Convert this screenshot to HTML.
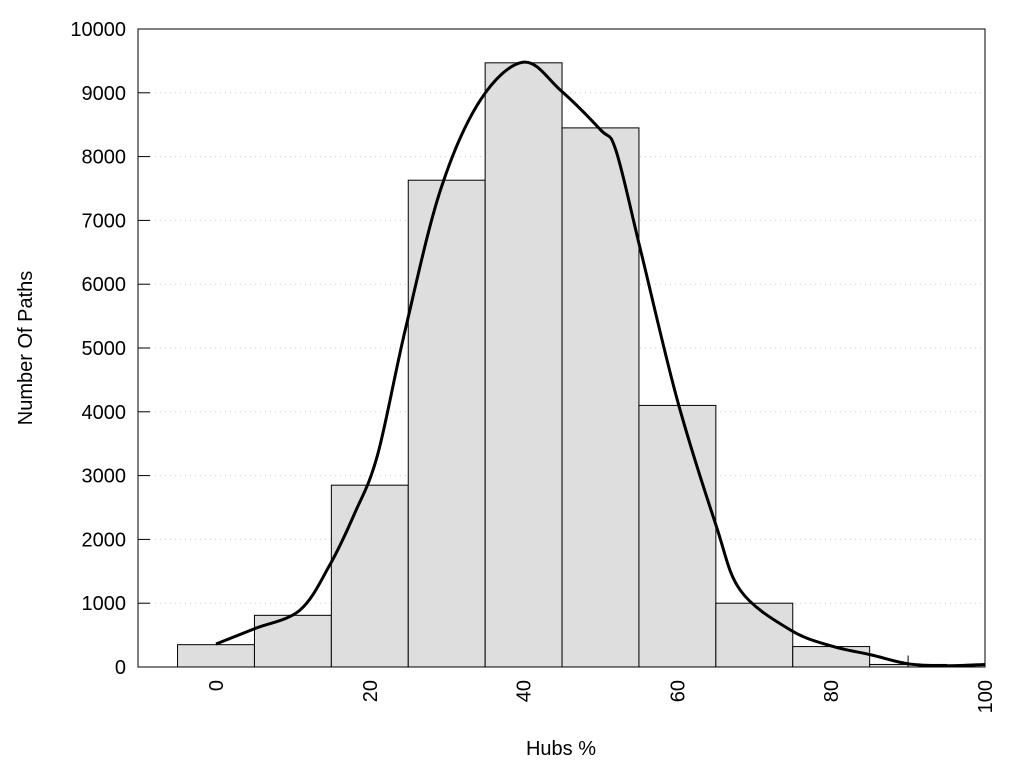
<!DOCTYPE html>
<html><head><meta charset="utf-8"><style>
body{margin:0;background:#fff;}
svg text{font-family:"Liberation Sans",sans-serif;fill:#000;}
</style></head><body>
<svg id="chart" width="1024" height="768" xmlns="http://www.w3.org/2000/svg">
<g id="grid"></g>
<g id="bars"></g>
<g id="curve"></g>
<rect x="138" y="29" width="847" height="638" fill="none" stroke="#000" stroke-width="1"/>
<g id="yticks"></g>
<g id="xticks"></g>
<text x="561" y="755" font-size="20" text-anchor="middle">Hubs %</text>
<text transform="translate(32,348) rotate(-90)" font-size="20" text-anchor="middle">Number Of Paths</text>
</svg>
<script>
const binCenters=[0,10,20,30,40,50,60,70,80,90,100];
const binCounts=[350,810,2850,7630,9470,8450,4100,1000,320,40,30];
const curveX=[0,5,10.9,14.8,18,21,24.6,29.2,34.4,40,44.8,50,52,55.2,60,65,68.2,74.7,80,85.2,90,95,100];
const curveY=[360,600,890,1600,2400,3320,5280,7480,8890,9480,9040,8420,8100,6540,4180,2230,1200,580,330,190,50,20,40];
const yTicks=[0,1000,2000,3000,4000,5000,6000,7000,8000,9000,10000];
const xTicks=[0,20,40,60,80,100];
const NS="http://www.w3.org/2000/svg";
const X=v=>216+v*7.69, Y=v=>667-v*0.0638;
function mk(t,a,p){const e=document.createElementNS(NS,t);for(const k in a)e.setAttribute(k,a[k]);p.appendChild(e);return e;}
const grid=document.getElementById('grid'),yt=document.getElementById('yticks'),xt=document.getElementById('xticks');
yTicks.forEach(v=>{
 if(v>0&&v<10000){const g=mk('line',{x1:150,x2:985,y1:Y(v),y2:Y(v),stroke:'#ccc','stroke-dasharray':'1,4'},grid);
 }
 const l=mk('line',{x1:138,x2:150,y1:Y(v),y2:Y(v),stroke:'#000'},yt);
 
 const t=mk('text',{x:126,y:Y(v)+7,'font-size':20,'text-anchor':'end'},yt);t.textContent=v;
 
});
xTicks.forEach(v=>{
 const t=mk('text',{transform:`translate(${X(v)+7},680) rotate(-90)`,'font-size':20,'text-anchor':'end'},xt);t.textContent=v;
 
});
const bars=document.getElementById('bars');
binCenters.forEach((c,i)=>{
 const x0=Math.max(138,X(c-5)),x1=Math.min(985,X(c+5));
 const r=mk('rect',{x:x0,y:Y(binCounts[i]),width:x1-x0,height:667-Y(binCounts[i]),fill:'#dedede',stroke:'#000','stroke-width':1},bars);
 
});
const ml=mk('line',{x1:X(90),x2:X(90),y1:Y(0),y2:Y(180),stroke:'#000'},bars);

// Catmull-Rom smooth path
const P=curveX.map((v,i)=>[X(v),Y(curveY[i])]);
let d=`M${P[0][0]},${P[0][1]}`;
for(let i=0;i<P.length-1;i++){const p0=P[i-1]||P[i],p1=P[i],p2=P[i+1],p3=P[i+2]||p2;
 d+=` C${p1[0]+(p2[0]-p0[0])/6},${p1[1]+(p2[1]-p0[1])/6} ${p2[0]-(p3[0]-p1[0])/6},${p2[1]-(p3[1]-p1[1])/6} ${p2[0]},${p2[1]}`;}
const c=mk('path',{d:d,fill:'none',stroke:'#000','stroke-width':3},document.getElementById('curve'));

</script>
</body></html>
